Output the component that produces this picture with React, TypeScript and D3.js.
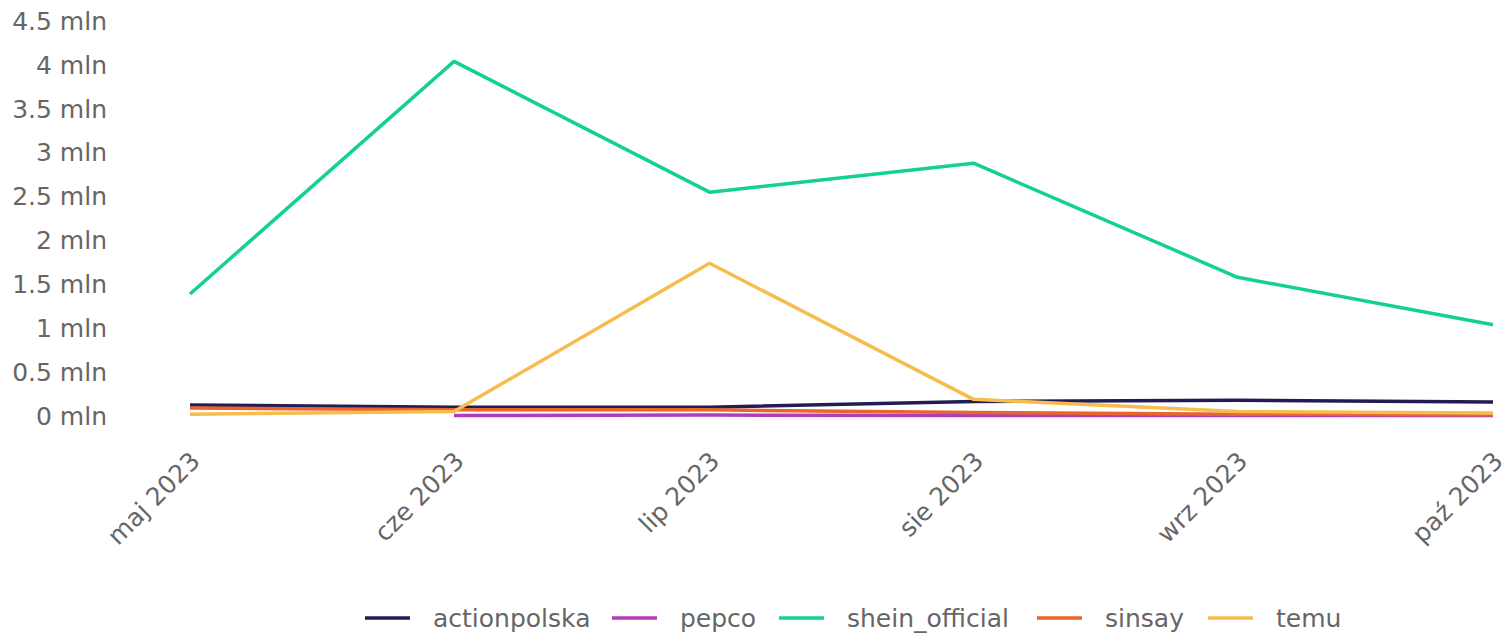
import React, { useEffect, useRef } from 'react';
import * as d3 from 'd3';

const months = ['2023-05-01', '2023-06-01', '2023-07-01', '2023-08-01', '2023-09-01', '2023-10-01'];
const monthLabels = ['maj 2023', 'cze 2023', 'lip 2023', 'sie 2023', 'wrz 2023', 'paź 2023'];

// values in mln, null = no data
const actionpolska = [0.125, 0.1, 0.1, 0.165, 0.18, 0.16];
const pepco = [null, 0.005, 0.01, 0.005, 0.005, 0.005];
const shein_official = [1.39, 4.04, 2.55, 2.88, 1.58, 1.04];
const sinsay = [0.09, 0.07, 0.07, 0.04, 0.02, 0.015];
const temu = [0.02, 0.05, 1.74, 0.19, 0.05, 0.035];

const seriesNames = ['actionpolska', 'pepco', 'shein_official', 'sinsay', 'temu'];
const seriesColors = ['#221c52', '#b03cbd', '#14d18f', '#e9652c', '#f6bd4e'];
const yTicks = [0, 0.5, 1, 1.5, 2, 2.5, 3, 3.5, 4, 4.5];

const W = 1506;
const H = 633;

export default function App() {
  const ref = useRef<SVGSVGElement>(null);

  useEffect(() => {
    const svg = d3.select(ref.current);
    svg.selectAll('*').remove();

    const parse = d3.timeParse('%Y-%m-%d');
    const dates = months.map(m => parse(m) as Date);

    const x = d3.scaleTime()
      .domain([dates[0], dates[dates.length - 1]])
      .range([190, 1493]);
    const y = d3.scaleLinear()
      .domain([0, 4.5])
      .range([416, 21]);

    const font = 'DejaVu Sans, sans-serif';
    const grey = '#666666';
    const fs = 25;

    // y labels
    svg.append('g')
      .selectAll('text')
      .data(yTicks)
      .enter()
      .append('text')
      .attr('x', 107)
      .attr('y', d => y(d))
      .attr('dy', '0.35em')
      .attr('text-anchor', 'end')
      .attr('font-family', font)
      .attr('font-size', fs)
      .attr('fill', grey)
      .text(d => d + ' mln');

    // x labels
    svg.append('g')
      .selectAll('text')
      .data(dates)
      .enter()
      .append('text')
      .attr('transform', d => `translate(${x(d) - 1},${450}) rotate(-45)`)
      .attr('dy', '0.71em')
      .attr('text-anchor', 'end')
      .attr('font-family', font)
      .attr('font-size', fs)
      .attr('fill', grey)
      .text((d, i) => monthLabels[i]);

    const allSeries = [actionpolska, pepco, shein_official, sinsay, temu];
    const line = d3.line<number | null>()
      .defined(d => d !== null)
      .x((d, i) => x(dates[i]))
      .y(d => y(d as number));

    allSeries.forEach((vals, i) => {
      svg.append('path')
        .datum(vals)
        .attr('d', line)
        .attr('fill', 'none')
        .attr('stroke', seriesColors[i])
        .attr('stroke-width', 3.5)
        .attr('stroke-linejoin', 'round');
    });

    // legend
    const legendX = [365, 612, 779, 1037, 1208];
    const lg = svg.append('g');
    seriesNames.forEach((name, i) => {
      lg.append('line')
        .attr('x1', legendX[i])
        .attr('x2', legendX[i] + 45)
        .attr('y1', 618)
        .attr('y2', 618)
        .attr('stroke', seriesColors[i])
        .attr('stroke-width', 3.5);
      lg.append('text')
        .attr('x', legendX[i] + 68)
        .attr('y', 618)
        .attr('dy', '0.35em')
        .attr('font-family', font)
        .attr('font-size', fs)
        .attr('fill', grey)
        .text(name);
    });
  }, []);

  return (
    <svg ref={ref} width={W} height={H}
      style={{ position: 'absolute', left: 0, top: 0, background: '#fff' }} />
  );
}
